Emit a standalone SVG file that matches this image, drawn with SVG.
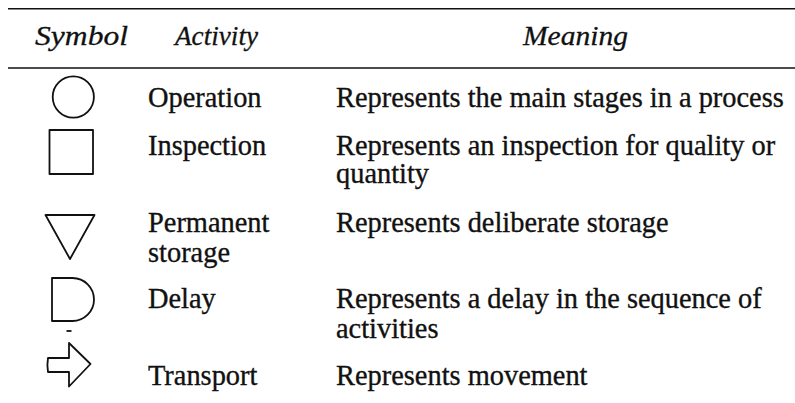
<svg xmlns="http://www.w3.org/2000/svg" width="795" height="403" viewBox="0 0 795 403">
  <style>
    .rule { stroke: #111; stroke-width: 1.6; fill: none; }
    .sym { stroke: #111; stroke-width: 1.8; fill: none; stroke-linejoin: round; }
    .head { font-family: "Liberation Serif", "Times New Roman", serif; font-style: italic; font-size: 28px; fill: #111; stroke: #111; stroke-width: 0.3; }
    .body { font-family: "Liberation Serif", "Times New Roman", serif; font-size: 28.4px; fill: #111; stroke: #111; stroke-width: 0.35; }
  </style>
  <rect width="795" height="403" fill="#fff"/>

  <!-- table rules -->
  <g id="rules">
    <line class="rule" x1="8" y1="8.8" x2="795" y2="8.8"/>
    <line class="rule" x1="8" y1="68" x2="795" y2="68"/>
  </g>

  <!-- column headings -->
  <g id="header">
    <text class="head" x="35" y="45" textLength="93" lengthAdjust="spacingAndGlyphs">Symbol</text>
    <text class="head" x="175" y="45" textLength="83" lengthAdjust="spacingAndGlyphs">Activity</text>
    <text class="head" x="523" y="45" textLength="105" lengthAdjust="spacingAndGlyphs">Meaning</text>
  </g>

  <g id="row-operation">
    <circle class="sym" cx="73.3" cy="97" r="20.6"/>
    <text class="body" x="148" y="106.5">Operation</text>
    <text class="body" x="336" y="106.5">Represents the main stages in a process</text>
  </g>

  <g id="row-inspection">
    <rect class="sym" x="49.5" y="130" width="43.5" height="44"/>
    <text class="body" x="148" y="155">Inspection</text>
    <text class="body" x="336" y="155">Represents an inspection for quality or</text>
    <text class="body" x="336" y="183">quantity</text>
  </g>

  <g id="row-storage">
    <polygon class="sym" points="45.5,215 94.5,215 70,259"/>
    <text class="body" x="148" y="232">Permanent</text>
    <text class="body" x="148" y="261.5">storage</text>
    <text class="body" x="336" y="232">Represents deliberate storage</text>
  </g>

  <g id="row-delay">
    <path class="sym" d="M52,278 H72.5 A21.5 21.5 0 0 1 72.5,321 H52 Z"/>
    <line class="sym" x1="66.5" y1="331" x2="71.5" y2="331" stroke-width="1.4"/>
    <text class="body" x="148" y="308">Delay</text>
    <text class="body" x="336" y="308">Represents a delay in the sequence of</text>
    <text class="body" x="336" y="337.5">activities</text>
  </g>

  <g id="row-transport">
    <path class="sym" d="M48,358 H69 V343 L90.5,364 L69,386.5 V372 H48 Q46.8,365 48,358 Z"/>
    <text class="body" x="148" y="384.5">Transport</text>
    <text class="body" x="336" y="384.5">Represents movement</text>
  </g>
</svg>
